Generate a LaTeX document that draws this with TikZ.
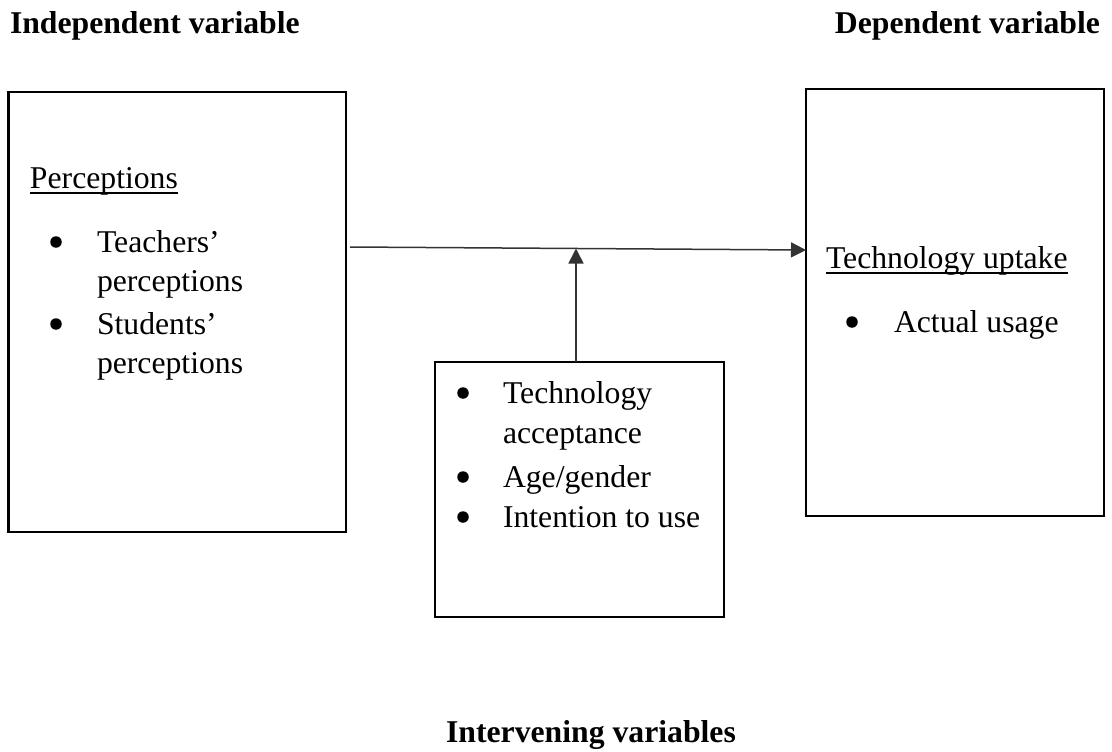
\documentclass[tikz,border=0pt]{standalone}
\usepackage{fontspec}
\setmainfont{Liberation Serif}
\usetikzlibrary{arrows.meta}

\tikzset{
  varbox/.style={draw=black, line width=2.2pt, inner sep=0pt, outer sep=0pt},
  txt/.style={anchor=base west, inner sep=0pt, outer sep=0pt,
    font=\fontsize{31.7}{38}\selectfont},
  head/.style={txt, font=\fontsize{31.7}{38}\selectfont\bfseries},
  bul/.style={circle, fill=black, inner sep=0pt, minimum size=11.5pt},
  uline/.style={line width=1.6pt},
  conn/.style={draw=black!80, line width=1.5pt,
    -{Triangle[length=15pt, width=15pt]}},
}

\begin{document}
\begin{tikzpicture}[x=1pt, y=-1pt]
  \useasboundingbox (0,0) rectangle (1112,752);

  % headings
  \node[head] (hin) at (10,34) {Independent variable};
  \node[head, anchor=base east] (hdep) at (1100,34) {Dependent variable};
  \node[head, anchor=base] (hint) at (591,742) {Intervening variables};

  % the three boxes
  \node[varbox, minimum width=337.5pt, minimum height=440pt] (indep) at (177.25,312) {};
  \node[varbox, minimum width=298pt, minimum height=427pt] (dep) at (955,302.5) {};
  \node[varbox, minimum width=289pt, minimum height=255pt] (mid) at (579.5,489.5) {};

  % independent variable box
  \node[txt] (perc) at (30,188) {Perceptions};
  \draw[uline] ([yshift=-5pt]perc.base west) -- ([yshift=-5pt]perc.base east);
  \node[bul] (pb1) at (56,242) {};
  \node[txt] (p1a) at (97,252) {Teachers’};
  \node[txt] (p1b) at (97,291) {perceptions};
  \node[bul] (pb2) at (56,324) {};
  \node[txt] (p2a) at (97,334) {Students’};
  \node[txt] (p2b) at (97,373) {perceptions};

  % dependent variable box
  \node[txt] (tu) at (826,268) {Technology uptake};
  \draw[uline] ([yshift=-5pt]tu.base west) -- ([yshift=-5pt]tu.base east);
  \node[bul] (db1) at (852,322) {};
  \node[txt] (d1) at (894,332) {Actual usage};

  % intervening variables box
  \node[bul] (mb1) at (463,393) {};
  \node[txt] (m1a) at (503,403) {Technology};
  \node[txt] (m1b) at (503,443) {acceptance};
  \node[bul] (mb2) at (463,477) {};
  \node[txt] (m2) at (503,487) {Age/gender};
  \node[bul] (mb3) at (463,517) {};
  \node[txt] (m3) at (503,527) {Intention to use};

  % connectors
  \coordinate (hstart) at (350,247);
  \coordinate (hend) at (806,250);
  \coordinate (join) at (576,248.5);
  \draw[conn] (hstart) -- (dep.west |- hend);
  \draw[conn] ([xshift=-3.5pt]mid.north) -- (join);
\end{tikzpicture}
\end{document}
